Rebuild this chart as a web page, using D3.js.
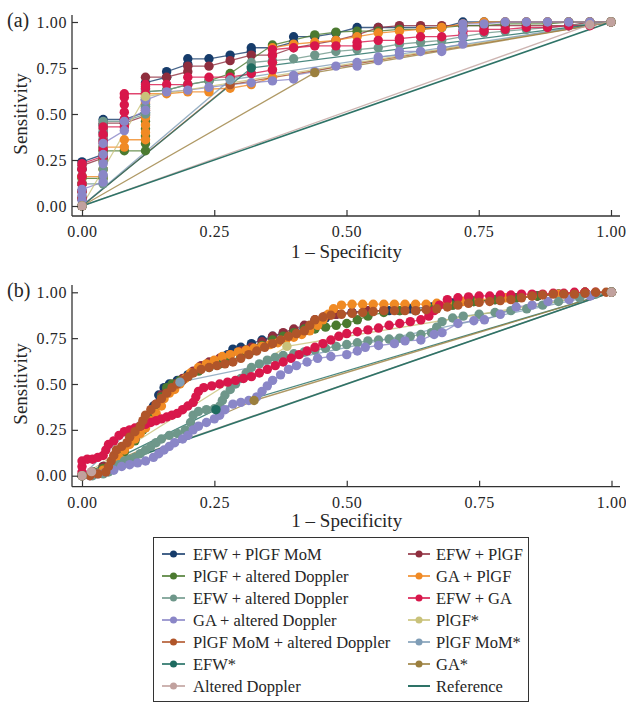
<!DOCTYPE html>
<html><head><meta charset="utf-8">
<script src="https://cdn.jsdelivr.net/npm/d3@7"></script>
<style>body{margin:0;background:#fff}</style>
</head><body><svg id="c" width="626" height="704"></svg>
<script>
// ---------- DATA ----------
const seriesNames = ["EFW + PlGF MoM","EFW + PlGF","PlGF + altered Doppler","GA + PlGF","EFW + altered Doppler","EFW + GA","GA + altered Doppler","PlGF MoM + altered Doppler","PlGF*","PlGF MoM*","EFW*","GA*","Altered Doppler","Reference"];
const seriesColors = ["#163c6b","#8f2e3e","#4b7a30","#f08a24","#6e978a","#d8174b","#8a86c7","#b0552a","#c9c27a","#7f9db6","#1e6b60","#9b7f3e","#c1a19e","#2e7367"];
const legendLeft = ["EFW + PlGF MoM","PlGF + altered Doppler","EFW + altered Doppler","GA + altered Doppler","PlGF MoM + altered Doppler","EFW*","Altered Doppler"];
const legendRight = ["EFW + PlGF","GA + PlGF","EFW + GA","PlGF*","PlGF MoM*","GA*","Reference"];
const xTicks = [0,0.25,0.5,0.75,1];
const yTicks = [0,0.25,0.5,0.75,1];
const xTitle = "1 \u2013 Specificity";
const yTitle = "Sensitivity";
const panelLabels = ["(a)","(b)"];

// Panel (a)
const a_efwPlgfMom = [[0,0],[0,.04],[0,.08],[0,.12],[0,.16],[0,.2],[0,.24],[.04,.28],[.04,.32],[.04,.36],[.04,.4],[.04,.44],[.04,.47],[.08,.47],[.12,.51],[.12,.55],[.12,.59],[.12,.63],[.12,.67],[.16,.7],[.16,.73],[.2,.77],[.2,.8],[.24,.8],[.28,.82],[.32,.84],[.32,.86],[.36,.86],[.4,.89],[.4,.92],[.44,.92],[.48,.94],[.52,.97],[.56,.97],[.6,.97],[.64,.97],[.68,.97],[.72,1],[.76,1],[.8,1],[.84,1],[.88,1],[.92,1],[.96,1],[1,1]];
const a_efwPlgf = [[0,0],[0,.04],[0,.08],[0,.12],[0,.16],[0,.2],[0,.22],[.04,.26],[.04,.3],[.04,.34],[.04,.38],[.04,.42],[.04,.45],[.08,.45],[.12,.49],[.12,.53],[.12,.57],[.12,.61],[.12,.65],[.12,.7],[.16,.7],[.2,.73],[.2,.76],[.24,.76],[.28,.79],[.32,.82],[.36,.82],[.4,.86],[.44,.88],[.48,.9],[.52,.93],[.56,.97],[.6,.98],[.64,.98],[.68,.98],[.72,.98],[.76,.98],[.8,.98],[.84,.98],[.88,.98],[.92,.98],[.96,1],[1,1]];
const a_plgfAlt = [[0,0],[0,.04],[0,.08],[0,.12],[0,.15],[.04,.15],[.04,.2],[.04,.25],[.04,.3],[.08,.3],[.12,.3],[.12,.34],[.12,.38],[.12,.42],[.12,.46],[.12,.5],[.12,.54],[.12,.58],[.12,.62],[.16,.63],[.2,.66],[.24,.68],[.28,.72],[.36,.875],[.44,.93],[.48,.945],[.52,.95],[.56,.95],[.6,.96],[.64,.96],[.68,.97],[.72,.98],[.76,.98],[.8,.99],[.84,.99],[.88,.99],[.92,1],[.96,1],[1,1]];
const a_gaPlgf = [[0,0],[0,.04],[0,.08],[0,.12],[0,.16],[.04,.16],[.04,.2],[.04,.24],[.04,.28],[.04,.32],[.08,.32],[.08,.36],[.12,.36],[.12,.4],[.12,.44],[.12,.48],[.12,.52],[.12,.56],[.12,.6],[.12,.61],[.16,.61],[.2,.62],[.24,.62],[.24,.635],[.28,.64],[.32,.66],[.36,.7],[.36,.74],[.36,.78],[.36,.82],[.36,.86],[.4,.88],[.44,.89],[.48,.9],[.52,.92],[.56,.94],[.6,.95],[.64,.96],[.68,.97],[.72,.99],[.76,1],[.8,1],[.84,1],[.88,1],[.92,1],[.96,1],[1,1]];
const a_efwAlt = [[0,0],[0,.04],[0,.08],[0,.12],[.04,.12],[.04,.16],[.04,.2],[.04,.24],[.04,.28],[.04,.32],[.04,.36],[.04,.4],[.04,.44],[.04,.46],[.08,.46],[.12,.5],[.12,.54],[.12,.58],[.12,.62],[.16,.63],[.2,.66],[.24,.68],[.28,.69],[.32,.72],[.32,.76],[.32,.78],[.36,.79],[.4,.8],[.44,.82],[.48,.84],[.52,.85],[.56,.86],[.6,.88],[.64,.89],[.68,.9],[.72,.92],[.76,.94],[.8,.95],[.84,.96],[.88,.97],[.92,.98],[.96,.99],[1,1]];
const a_efwGa = [[0,0],[0,.04],[0,.08],[0,.12],[0,.16],[0,.2],[0,.23],[.04,.27],[.04,.31],[.04,.35],[.04,.39],[.04,.43],[.08,.43],[.08,.47],[.08,.51],[.08,.55],[.08,.59],[.08,.61],[.12,.61],[.12,.64],[.12,.66],[.16,.66],[.2,.66],[.2,.7],[.24,.7],[.28,.7],[.32,.72],[.36,.74],[.36,.78],[.36,.82],[.36,.85],[.4,.86],[.44,.87],[.48,.87],[.52,.87],[.52,.89],[.56,.9],[.6,.9],[.6,.91],[.64,.92],[.68,.92],[.72,.93],[.72,.95],[.76,.95],[.76,.96],[.8,.96],[.84,.97],[.88,.97],[.92,.98],[.96,.98],[1,1]];
const a_gaAlt = [[0,0],[0,.03],[0,.06],[0,.09],[.04,.13],[.04,.17],[.04,.23],[.04,.28],[.04,.34],[.08,.41],[.08,.46],[.12,.52],[.12,.575],[.16,.62],[.2,.63],[.24,.645],[.28,.66],[.32,.67],[.36,.68],[.4,.69],[.4,.71],[.44,.73],[.48,.76],[.52,.76],[.52,.78],[.56,.79],[.56,.81],[.6,.82],[.6,.84],[.64,.84],[.68,.84],[.68,.86],[.72,.88],[.72,.92],[.72,.96],[.72,.99],[.76,.99],[.8,1],[.84,1],[.88,1],[.92,1],[.96,1],[1,1]];
const a_plgfMomAlt = [[0,0],[.28,.66],[1,1]];
const a_plgf = [[0,0],[.12,.595],[1,1]];
const a_plgfMom = [[0,0],[.28,.685],[1,1]];
const a_efw = [[0,0],[.32,.75],[1,1]];
const a_ga = [[0,0],[.44,.725],[1,1]];
const a_altDoppler = [[0,0],[.96,.985],[1,1]];
const a_reference = [[0,0],[1,1]];

// Panel (b)
const b_efwPlgfMom = [[0,0],[0.02,0.02],[0.04,0.05],[0.06,0.09],[0.08,0.14],[0.1,0.2],[0.115,0.26],[0.125,0.32],[0.135,0.38],[0.145,0.44],[0.155,0.48],[0.165,0.5],[0.18,0.52],[0.2,0.55],[0.22,0.58],[0.24,0.61],[0.26,0.63],[0.275,0.66],[0.285,0.69],[0.3,0.7],[0.32,0.72],[0.34,0.74],[0.36,0.76],[0.38,0.775],[0.4,0.79],[0.42,0.81],[0.44,0.84],[0.46,0.86],[0.48,0.88],[0.51,0.89],[0.54,0.9],[0.58,0.9],[0.62,0.91],[0.66,0.92],[0.7,0.94],[0.74,0.95],[0.78,0.96],[0.82,0.97],[0.86,0.98],[0.9,0.99],[0.95,1],[1,1]];
const b_efwPlgf = [[0,0],[0.02,0.02],[0.04,0.05],[0.06,0.09],[0.08,0.14],[0.1,0.2],[0.115,0.26],[0.13,0.33],[0.14,0.39],[0.15,0.44],[0.16,0.47],[0.175,0.5],[0.19,0.53],[0.21,0.57],[0.225,0.6],[0.24,0.62],[0.26,0.64],[0.28,0.66],[0.3,0.68],[0.32,0.7],[0.34,0.73],[0.36,0.76],[0.38,0.78],[0.4,0.8],[0.42,0.82],[0.44,0.85],[0.46,0.87],[0.48,0.88],[0.51,0.89],[0.54,0.9],[0.57,0.9],[0.6,0.9],[0.63,0.9],[0.66,0.91],[0.7,0.93],[0.74,0.95],[0.78,0.96],[0.82,0.97],[0.86,0.98],[0.9,0.99],[0.95,1],[1,1]];
const b_plgfAlt = [[0,0],[0.02,0.02],[0.04,0.04],[0.06,0.08],[0.08,0.13],[0.1,0.19],[0.115,0.25],[0.13,0.32],[0.14,0.38],[0.15,0.43],[0.16,0.48],[0.17,0.5],[0.185,0.52],[0.2,0.54],[0.22,0.57],[0.24,0.59],[0.26,0.61],[0.28,0.63],[0.3,0.65],[0.32,0.68],[0.34,0.71],[0.36,0.74],[0.38,0.76],[0.4,0.78],[0.42,0.8],[0.44,0.8],[0.46,0.81],[0.48,0.82],[0.5,0.83],[0.52,0.85],[0.54,0.87],[0.57,0.89],[0.6,0.9],[0.63,0.9],[0.66,0.91],[0.7,0.93],[0.74,0.95],[0.78,0.96],[0.82,0.97],[0.86,0.98],[0.9,0.99],[0.95,1],[1,1]];
const b_gaPlgf = [[0,0],[0.02,0.01],[0.04,0.03],[0.06,0.06],[0.07,0.1],[0.08,0.14],[0.09,0.17],[0.1,0.2],[0.11,0.23],[0.12,0.26],[0.13,0.3],[0.14,0.34],[0.15,0.38],[0.155,0.42],[0.165,0.45],[0.175,0.47],[0.185,0.5],[0.195,0.53],[0.205,0.56],[0.22,0.59],[0.235,0.61],[0.25,0.63],[0.265,0.65],[0.28,0.66],[0.295,0.675],[0.31,0.685],[0.325,0.695],[0.34,0.705],[0.355,0.715],[0.37,0.725],[0.385,0.74],[0.4,0.755],[0.415,0.77],[0.43,0.79],[0.445,0.82],[0.455,0.85],[0.465,0.88],[0.475,0.91],[0.49,0.93],[0.51,0.935],[0.53,0.935],[0.55,0.935],[0.57,0.935],[0.59,0.935],[0.61,0.935],[0.63,0.935],[0.65,0.935],[0.67,0.94],[0.69,0.945],[0.72,0.95],[0.75,0.96],[0.8,0.97],[0.85,0.98],[0.9,0.99],[0.95,1],[1,1]];
const b_efwAlt = [[0,0],[0.02,0],[0.04,0.01],[0.05,0.02],[0.06,0.04],[0.07,0.06],[0.08,0.08],[0.09,0.09],[0.1,0.1],[0.11,0.12],[0.12,0.14],[0.13,0.16],[0.14,0.18],[0.15,0.2],[0.165,0.22],[0.18,0.23],[0.195,0.25],[0.205,0.29],[0.21,0.33],[0.22,0.35],[0.235,0.36],[0.25,0.365],[0.26,0.38],[0.265,0.41],[0.27,0.44],[0.28,0.47],[0.29,0.5],[0.3,0.53],[0.31,0.56],[0.32,0.59],[0.335,0.61],[0.35,0.63],[0.365,0.645],[0.38,0.655],[0.4,0.665],[0.42,0.675],[0.44,0.685],[0.46,0.695],[0.48,0.705],[0.5,0.715],[0.52,0.725],[0.54,0.735],[0.56,0.74],[0.58,0.745],[0.6,0.75],[0.62,0.76],[0.64,0.77],[0.66,0.78],[0.67,0.81],[0.68,0.84],[0.7,0.86],[0.72,0.87],[0.75,0.88],[0.78,0.89],[0.81,0.9],[0.84,0.91],[0.87,0.93],[0.9,0.95],[0.94,0.97],[0.97,0.99],[1,1]];
const b_efwGa = [[0,0.02],[0,0.05],[0,0.08],[0.01,0.09],[0.02,0.09],[0.03,0.1],[0.04,0.11],[0.045,0.14],[0.05,0.17],[0.06,0.19],[0.07,0.22],[0.08,0.24],[0.09,0.25],[0.1,0.26],[0.11,0.27],[0.12,0.28],[0.13,0.29],[0.14,0.3],[0.15,0.31],[0.16,0.32],[0.17,0.33],[0.18,0.34],[0.19,0.36],[0.2,0.38],[0.21,0.4],[0.215,0.43],[0.22,0.46],[0.23,0.48],[0.245,0.49],[0.26,0.5],[0.275,0.51],[0.29,0.52],[0.305,0.53],[0.32,0.54],[0.335,0.56],[0.35,0.58],[0.365,0.6],[0.38,0.62],[0.395,0.64],[0.41,0.66],[0.425,0.68],[0.44,0.7],[0.455,0.72],[0.47,0.74],[0.485,0.76],[0.5,0.775],[0.52,0.785],[0.54,0.795],[0.56,0.805],[0.58,0.82],[0.6,0.83],[0.62,0.84],[0.64,0.85],[0.655,0.87],[0.665,0.9],[0.675,0.93],[0.69,0.96],[0.71,0.97],[0.73,0.975],[0.75,0.98],[0.77,0.98],[0.79,0.985],[0.81,0.985],[0.83,0.99],[0.85,0.99],[0.87,0.99],[0.89,0.995],[0.91,0.995],[0.93,1],[0.95,1],[0.97,1],[1,1]];
const b_gaAlt = [[0,0],[0.015,0],[0.03,0.01],[0.045,0.02],[0.06,0.03],[0.075,0.05],[0.09,0.06],[0.105,0.07],[0.12,0.08],[0.135,0.1],[0.145,0.12],[0.155,0.14],[0.165,0.16],[0.175,0.18],[0.19,0.2],[0.2,0.22],[0.21,0.25],[0.22,0.27],[0.235,0.29],[0.25,0.31],[0.26,0.33],[0.27,0.36],[0.285,0.39],[0.3,0.4],[0.315,0.41],[0.33,0.43],[0.34,0.46],[0.35,0.49],[0.36,0.52],[0.375,0.55],[0.39,0.58],[0.405,0.6],[0.425,0.62],[0.445,0.64],[0.47,0.65],[0.5,0.66],[0.52,0.68],[0.535,0.7],[0.56,0.71],[0.59,0.72],[0.61,0.735],[0.64,0.74],[0.665,0.77],[0.68,0.78],[0.71,0.83],[0.74,0.845],[0.76,0.85],[0.79,0.88],[0.82,0.92],[0.85,0.93],[0.88,0.95],[0.92,0.96],[0.96,0.98],[1,1]];
const b_plgfMomAlt = [[0,0],[0.015,0],[0.03,0.01],[0.045,0.02],[0.05,0.05],[0.055,0.08],[0.06,0.11],[0.065,0.14],[0.075,0.16],[0.085,0.18],[0.09,0.21],[0.1,0.24],[0.11,0.27],[0.115,0.3],[0.12,0.33],[0.13,0.36],[0.14,0.39],[0.15,0.42],[0.16,0.45],[0.17,0.48],[0.18,0.5],[0.19,0.52],[0.2,0.54],[0.21,0.56],[0.225,0.58],[0.24,0.59],[0.255,0.6],[0.27,0.61],[0.285,0.62],[0.3,0.64],[0.315,0.66],[0.33,0.68],[0.345,0.7],[0.36,0.72],[0.375,0.74],[0.39,0.76],[0.405,0.775],[0.42,0.79],[0.43,0.82],[0.44,0.85],[0.455,0.865],[0.47,0.875],[0.49,0.88],[0.51,0.885],[0.53,0.89],[0.55,0.895],[0.57,0.9],[0.59,0.9],[0.61,0.9],[0.63,0.9],[0.65,0.905],[0.67,0.91],[0.69,0.92],[0.71,0.93],[0.73,0.94],[0.75,0.945],[0.77,0.95],[0.79,0.955],[0.81,0.96],[0.83,0.97],[0.85,0.98],[0.87,0.985],[0.89,0.99],[0.91,0.99],[0.93,0.99],[0.95,0.995],[0.97,1],[0.99,1],[1,1]];
const b_plgf = [[0,0],[0.387,0.705],[1,1]];
const b_plgfMom = [[0,0],[0.185,0.51],[1,1]];
const b_efw = [[0,0],[0.253,0.36],[1,1]];
const b_ga = [[0,0],[0.325,0.41],[1,1]];
const b_altDoppler = [[0,0],[0.018,0.022],[1,1]];
const b_reference = [[0,0],[1,1]];

const panelAData = [a_efwPlgfMom,a_efwPlgf,a_plgfAlt,a_gaPlgf,a_efwAlt,a_efwGa,a_gaAlt,a_plgfMomAlt,a_plgf,a_plgfMom,a_efw,a_ga,a_altDoppler,a_reference];
const panelBData = [b_efwPlgfMom,b_efwPlgf,b_plgfAlt,b_gaPlgf,b_efwAlt,b_efwGa,b_gaAlt,b_plgfMomAlt,b_plgf,b_plgfMom,b_efw,b_ga,b_altDoppler,b_reference];

// ---------- DRAW ----------
const FONT = "'Liberation Serif','Times New Roman',serif";
const TXT = "#262626";
const svg = d3.select("#c");
svg.append("rect").attr("width",626).attr("height",704).attr("fill","#fff");
const refIdx = seriesNames.indexOf("Reference");

function drawPanel(data, f, label) {
  const g = svg.append("g");
  const x = d3.scaleLinear().domain([0,1]).range([f.x0, f.x1]);
  const y = d3.scaleLinear().domain([0,1]).range([f.y0, f.y1]);
  const line = d3.line().x(d => x(d[0])).y(d => y(d[1]));
  data.forEach((pts, i) => {
    g.append("path").attr("d", line(pts)).attr("fill","none")
      .attr("stroke", seriesColors[i])
      .attr("stroke-width", i === refIdx ? 1.6 : 1.3)
      .attr("stroke-opacity", i === refIdx ? 1 : 0.8);
  });
  data.forEach((pts, i) => {
    if (i === refIdx) return;
    g.append("g").selectAll("circle").data(pts).join("circle")
      .attr("cx", d => x(d[0])).attr("cy", d => y(d[1])).attr("r", 4.7)
      .attr("fill", seriesColors[i]);
  });
  const xa = g.append("g").attr("transform", `translate(0,${f.axisY})`)
    .call(d3.axisBottom(x).tickValues(xTicks).tickFormat(d3.format(".2f")).tickSizeInner(-6).tickSizeOuter(0).tickPadding(10));
  const ya = g.append("g").attr("transform", `translate(${f.axisX},0)`)
    .call(d3.axisLeft(y).tickValues(yTicks).tickFormat(d3.format(".2f")).tickSizeInner(-6).tickSizeOuter(0).tickPadding(5));
  [xa, ya].forEach(a => {
    a.select(".domain").remove();
    a.selectAll(".tick line").attr("stroke","#333").attr("stroke-width",1.2);
    a.selectAll("text").attr("font-family", FONT).attr("font-size", 16).attr("fill", TXT).attr("letter-spacing", 0.6);
  });
  ya.selectAll(".tick line").attr("x1", 0).attr("x2", 6);
  xa.selectAll(".tick line").attr("y1", 0).attr("y2", -6);
  g.append("line").attr("x1", f.axisX).attr("x2", f.axisX).attr("y1", f.axisTop).attr("y2", f.axisY)
    .attr("stroke","#333").attr("stroke-width",1.3);
  g.append("line").attr("x1", f.axisX).attr("x2", f.axisRight).attr("y1", f.axisY).attr("y2", f.axisY)
    .attr("stroke","#333").attr("stroke-width",1.3);
  g.append("text").attr("x", (f.x0 + f.x1) / 2).attr("y", f.titleY).attr("text-anchor","middle")
    .attr("font-family", FONT).attr("font-size", 19).attr("fill", TXT).text(xTitle);
  g.append("text").attr("transform", `translate(27,${(f.y0 + f.y1) / 2}) rotate(-90)`).attr("text-anchor","middle")
    .attr("font-family", FONT).attr("font-size", 19).attr("fill", TXT).text(yTitle);
  g.append("text").attr("x", 7).attr("y", f.labelY).attr("font-family", FONT).attr("font-size", 20)
    .attr("fill", TXT).text(label);
}

drawPanel(panelAData, {x0:82, x1:611, y0:206, y1:22, axisX:72, axisY:216, axisTop:15, axisRight:620, titleY:258, labelY:27}, panelLabels[0]);
drawPanel(panelBData, {x0:82, x1:611.5, y0:475.7, y1:292.3, axisX:72, axisY:486.7, axisTop:285, axisRight:620, titleY:527, labelY:297}, panelLabels[1]);

// legend
const lg = svg.append("g");
lg.append("rect").attr("x",153.5).attr("y",537.5).attr("width",375).attr("height",164)
  .attr("fill","none").attr("stroke","#333").attr("stroke-width",1);
function legendCol(names, lx0, lx1, tx) {
  names.forEach((nm, r) => {
    const i = seriesNames.indexOf(nm);
    const cy = 554 + 22 * r;
    lg.append("line").attr("x1", lx0).attr("x2", lx1).attr("y1", cy).attr("y2", cy)
      .attr("stroke", seriesColors[i]).attr("stroke-width", 2).attr("stroke-opacity", i === refIdx ? 1 : 0.8);
    if (i !== refIdx) lg.append("circle").attr("cx", (lx0 + lx1) / 2).attr("cy", cy).attr("r", 3.5).attr("fill", seriesColors[i]);
    lg.append("text").attr("x", tx).attr("y", cy).attr("dy", "0.35em").attr("font-family", FONT)
      .attr("font-size", 16.5).attr("fill", TXT).text(nm);
  });
}
legendCol(legendLeft, 162, 185, 193);
legendCol(legendRight, 408, 430, 436);
</script></body></html>
